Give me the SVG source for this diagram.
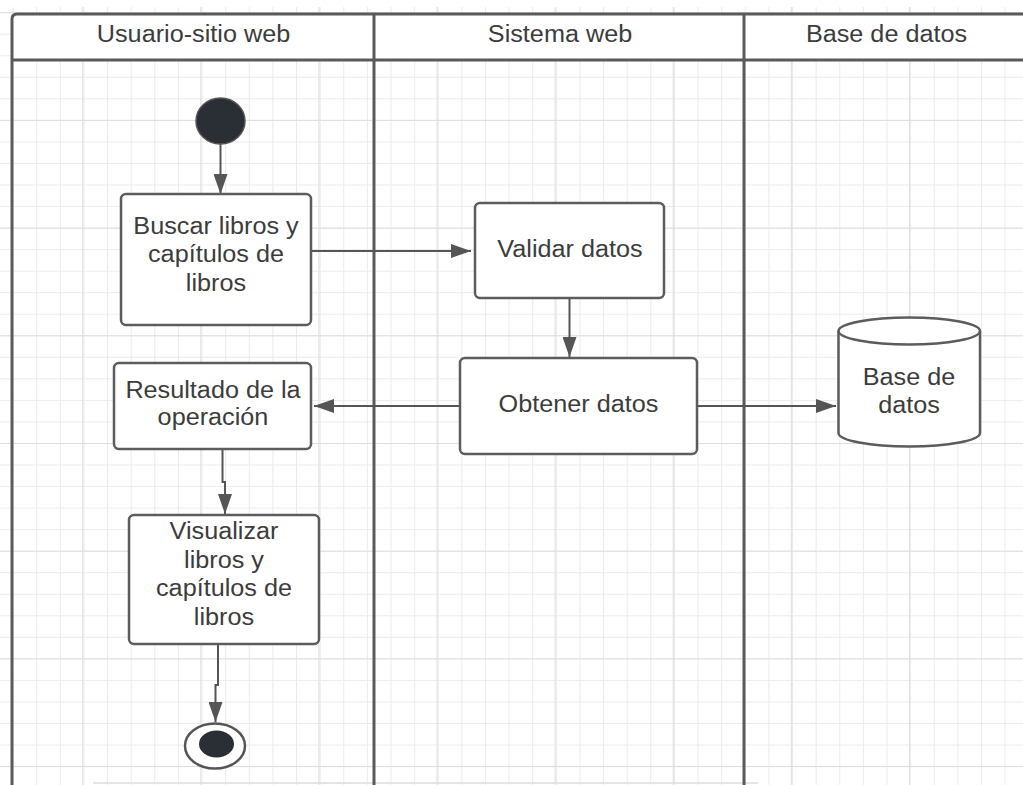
<svg xmlns="http://www.w3.org/2000/svg" width="1023" height="785" viewBox="0 0 1023 785">
  <defs>
    <pattern id="gridMinor" patternUnits="userSpaceOnUse" x="36.2" y="76.8" width="23.62" height="21.54">
      <path d="M0.5 0 V21.54 M0 0.5 H23.62" stroke="#ebebeb" stroke-width="1" fill="none"/>
    </pattern>
    <pattern id="gridMajor" patternUnits="userSpaceOnUse" x="82.2" y="119.9" width="118.1" height="107.7">
      <path d="M0.5 0 V107.7 M0 0.5 H118.1" stroke="#dedede" stroke-width="1.2" fill="none"/>
    </pattern>
    <marker id="arrow" viewBox="0 0 20 14" refX="20" refY="7" markerWidth="20" markerHeight="14" markerUnits="userSpaceOnUse" orient="auto">
      <path d="M0 0 L20 7 L0 14 z" fill="#555555"/>
    </marker>
    <style>
      .lane { stroke: #5a5a5a; stroke-width: 3; fill: none; }
      .box { fill: #ffffff; stroke: #5c5c5c; stroke-width: 2.5; }
      .conn { stroke: #555555; stroke-width: 2; fill: none; marker-end: url(#arrow); }
      .lbl { font-family: "Liberation Sans", Arial, sans-serif; font-size: 23px; fill: #3c3c3c; text-anchor: middle; }
    </style>
  </defs>

  <rect x="0" y="0" width="1023" height="785" fill="#ffffff"/>
  <g id="grid">
    <rect x="0" y="7" width="1023" height="778" fill="url(#gridMinor)"/>
    <rect x="0" y="7" width="1023" height="778" fill="url(#gridMajor)"/>
    <line x1="93" y1="783" x2="758" y2="783" stroke="#dcdcdc" stroke-width="1.5"/>
  </g>

  <g id="pool">
    <rect x="12" y="14" width="1011" height="46" fill="#ffffff"/>
    <path class="lane" d="M12 785 V19 Q12 14 17 14 H1023"/>
    <path class="lane" d="M12 60 H1023"/>
    <path class="lane" d="M374 14 V785"/>
    <path class="lane" d="M744 14 V785"/>
    <text class="lbl" transform="translate(193.5 41.5) scale(1.097 1)">Usuario-sitio web</text>
    <text class="lbl" transform="translate(560 41.5) scale(1.097 1)">Sistema web</text>
    <text class="lbl" transform="translate(886.5 41.5) scale(1.097 1)">Base de datos</text>
  </g>

  <g id="connectors">
    <path class="conn" d="M220.5 144 V194"/>
    <path class="conn" d="M311 251 H471"/>
    <path class="conn" d="M569.5 298 V357"/>
    <path class="conn" d="M697 406 H836"/>
    <path class="conn" d="M460 406 H314"/>
    <path class="conn" d="M222.5 449 V482 H225 V514"/>
    <path class="conn" d="M218 644 V685 H215.5 V722"/>
  </g>

  <g id="start">
    <ellipse cx="220.5" cy="121" rx="24.5" ry="23" fill="#2a2e35" stroke="#555555" stroke-width="1.5"/>
  </g>

  <g id="buscar">
    <rect class="box" x="121" y="194" width="190" height="131" rx="5"/>
    <text class="lbl" transform="translate(216 234) scale(1.097 1)"><tspan x="0" dy="0">Buscar libros y</tspan><tspan x="0" dy="28.3">capítulos de</tspan><tspan x="0" dy="28.3">libros</tspan></text>
  </g>

  <g id="validar">
    <rect class="box" x="475" y="203" width="189" height="95" rx="5"/>
    <text class="lbl" transform="translate(570 257) scale(1.097 1)">Validar datos</text>
  </g>

  <g id="obtener">
    <rect class="box" x="460" y="358" width="237" height="96" rx="5"/>
    <text class="lbl" transform="translate(578.5 412) scale(1.097 1)">Obtener datos</text>
  </g>

  <g id="basedatos">
    <path class="box" d="M838.5 331 A70.75 13.5 0 0 1 980 331 V433 A70.75 13.5 0 0 1 838.5 433 Z"/>
    <path d="M838.5 331 A70.75 13.5 0 0 0 980 331" fill="none" stroke="#5c5c5c" stroke-width="2.5"/>
    <text class="lbl" transform="translate(909 385) scale(1.097 1)"><tspan x="0" dy="0">Base de</tspan><tspan x="0" dy="28">datos</tspan></text>
  </g>

  <g id="resultado">
    <rect class="box" x="114" y="363" width="197" height="86" rx="5"/>
    <text class="lbl" transform="translate(213 398) scale(1.097 1)"><tspan x="0" dy="0">Resultado de la</tspan><tspan x="0" dy="27">operación</tspan></text>
  </g>

  <g id="visualizar">
    <rect class="box" x="129" y="515" width="190" height="129" rx="5"/>
    <text class="lbl" transform="translate(224 539) scale(1.097 1)"><tspan x="0" dy="0">Visualizar</tspan><tspan x="0" dy="28.7">libros y</tspan><tspan x="0" dy="28.7">capítulos de</tspan><tspan x="0" dy="28.7">libros</tspan></text>
  </g>

  <g id="end">
    <ellipse cx="215" cy="746" rx="30" ry="22.5" fill="#ffffff" stroke="#555555" stroke-width="2.5"/>
    <ellipse cx="216.5" cy="744" rx="17.5" ry="13.5" fill="#2a2e35"/>
  </g>
</svg>
